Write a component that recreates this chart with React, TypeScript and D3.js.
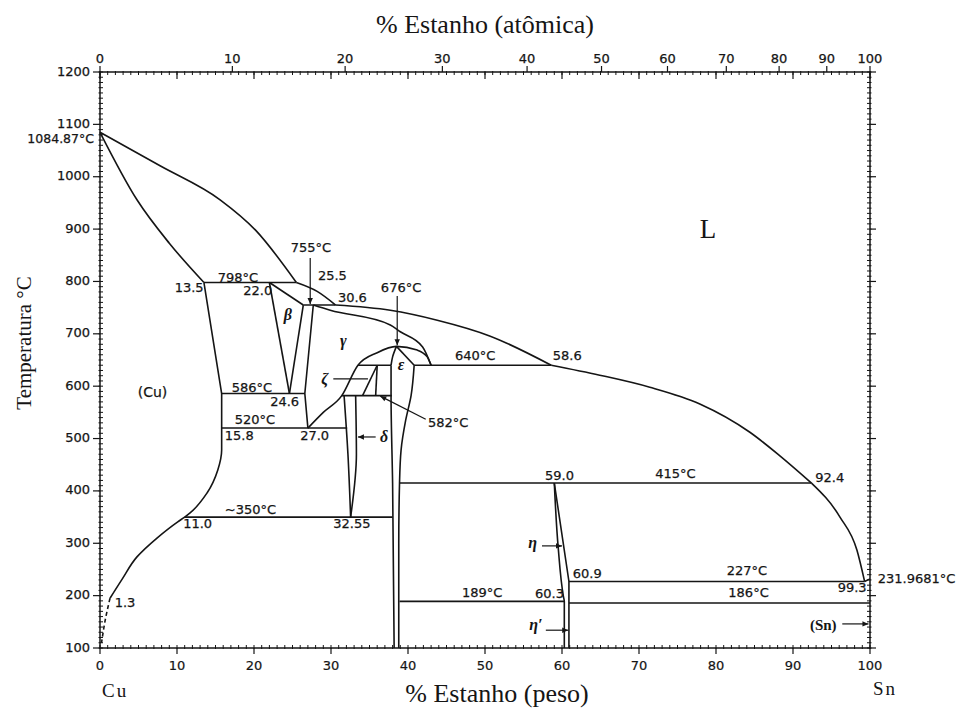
import React from "react";
import * as d3 from "d3";

type P = [number, number]; // [wt% Sn, °C]

// ---- phase boundaries (wt% Sn, temperature °C) ----
const liquidusCu: P[] = [[0, 1084.87], [7.8, 1021], [15.6, 956], [20.2, 898], [25.5, 798]];
const liquidusBeta: P[] = [[25.5, 798], [28.2, 781], [30.6, 755]];
const liquidusGamma: P[] = [[30.6, 755], [37.7, 745], [43.8, 726], [50.6, 696], [58.6, 640]];
const liquidusEps: P[] = [[58.6, 640], [64.9, 621], [71.4, 598], [77.9, 566], [84.4, 512], [88.3, 467], [92.4, 415]];
const liquidusEta: P[] = [[92.4, 415], [96.1, 350], [98.3, 287], [99.3, 227]];
const liquidusSn: P[] = [[99.3, 227], [100, 231.9681]];
const solidusCu: P[] = [[0, 1084.87], [4.8, 956], [9.0, 873], [13.5, 798]];
const solvusCuUpper: P[] = [[13.5, 798], [15.8, 586], [15.8, 520]];
const solvusCuLower: P[] = [[15.8, 520], [15.8, 478], [15.3, 440], [13.9, 396], [11.7, 358], [11.0, 350], [10.1, 341], [7.4, 310], [4.8, 274], [2.9, 232], [1.3, 195]];
const solvusCuDashed: P[] = [[1.3, 195], [0.7, 155], [0.2, 110]];
const betaLeft: P[] = [[22.0, 798], [24.6, 586]];
const betaTop: P[] = [[22.0, 798], [26.4, 755]];
const betaRight: P[] = [[26.4, 755], [24.6, 586]];
const gammaLeft: P[] = [[27.7, 755], [26.6, 586], [27.0, 520]];
const gammaSolidus: P[] = [[27.7, 755], [29.9, 745], [37.7, 717], [39.0, 704], [41.9, 675], [43.0, 640]];
const gammaDome: P[] = [[27.0, 520], [29.0, 550], [31.4, 582], [33.5, 640], [36.0, 664], [38.5, 676], [41.2, 669], [42.5, 656], [43.0, 640]];
const epsLeftTop: P[] = [[38.5, 676], [38.0, 656], [37.8, 640]];
const epsLeftLow: P[] = [[37.8, 640], [37.8, 582], [38.0, 415], [38.2, 100]];
const epsRightTop: P[] = [[38.5, 676], [40.8, 640]];
const epsRightLow: P[] = [[40.8, 640], [40.4, 582], [39.7, 535], [39.1, 478], [38.9, 415], [38.8, 300], [38.8, 100]];
const zetaLeft: P[] = [[36.0, 640], [34.1, 582]];
const zetaRight: P[] = [[36.0, 640], [35.8, 582]];
const deltaLeft: P[] = [[31.7, 582], [32.2, 470], [32.55, 350]];
const deltaRight: P[] = [[33.2, 582], [33.3, 470], [32.55, 350]];
const etaLeft: P[] = [[59.0, 415], [59.5, 293], [60.2, 197], [60.3, 189], [60.3, 100]];
const etaRight: P[] = [[59.0, 415], [60.9, 227], [60.9, 100]];

// invariant isotherms: [°C, from wt%, to wt%]
const isotherms: [number, number, number][] = [
  [798, 13.5, 25.5],
  [755, 26.4, 30.6],
  [586, 15.8, 26.6],
  [520, 15.8, 32.1],
  [350, 11.0, 38.0],
  [640, 33.5, 37.8],
  [640, 40.8, 58.6],
  [582, 31.4, 37.9],
  [415, 38.9, 92.4],
  [227, 60.9, 99.3],
  [189, 38.9, 60.3],
  [186, 60.9, 100],
];

// annotations: [text, wt%, °C] (left/baseline)
const valueLabels: [string, number, number][] = [
  ["25.5", 28.3, 803],
  ["798°C", 15.3, 799],
  ["13.5", 9.7, 780],
  ["22.0", 18.6, 774],
  ["30.6", 30.9, 761],
  ["640°C", 46.1, 650],
  ["58.6", 58.8, 650],
  ["586°C", 17.1, 589],
  ["24.6", 22.1, 562],
  ["520°C", 17.5, 528],
  ["15.8", 16.2, 497],
  ["27.0", 26.0, 497],
  ["582°C", 42.6, 522],
  ["~350°C", 16.2, 356],
  ["11.0", 10.8, 329],
  ["32.55", 30.3, 329],
  ["1.3", 1.9, 178],
  ["59.0", 57.8, 421],
  ["415°C", 72.1, 425],
  ["92.4", 92.9, 417],
  ["60.9", 61.4, 234],
  ["189°C", 47.0, 197],
  ["60.3", 56.5, 195.5],
  ["227°C", 81.4, 239],
  ["186°C", 81.6, 197],
  ["99.3", 95.8, 207],
  ["231.9681°C", 101.0, 224],
];
const centeredLabels: [string, number, number][] = [
  ["755°C", 27.4, 856],
  ["676°C", 39.1, 780],
];
// phase names: [text, wt% (centre), °C (baseline)]
const phaseLabels: [string, number, number][] = [
  ["β", 24.4, 727],
  ["γ", 31.6, 677],
  ["ζ", 29.2, 604],
  ["ε", 39.1, 631],
  ["δ", 36.9, 493],
  ["η", 56.2, 291],
  ["η′", 56.6, 134],
];
// arrows: [wt1, °C1, wt2, °C2] drawn toward the second point
const arrows: [number, number, number, number][] = [
  [27.3, 845, 27.3, 757],
  [38.6, 772, 38.6, 678],
  [42.3, 537, 36.4, 581],
  [35.8, 503, 33.5, 503],
  [57.4, 295, 60.0, 295],
  [57.9, 134, 60.8, 134],
  [96.4, 146, 99.8, 146],
];
const leaders: [number, number, number, number][] = [[30.3, 614, 34.8, 614]];

const tempTicks = d3.range(100, 1201, 100);
const tempMinor = d3.range(100, 1201, 10);
const wtTicks = d3.range(0, 101, 10);
const wtMinor = d3.range(0, 101, 1);
const atTicks = d3.range(0, 101, 10);

const atToWt = (a: number) => (100 * a * 118.71) / (a * 118.71 + (100 - a) * 63.546);

const x = d3.scaleLinear().domain([0, 100]).range([100, 870]);
const y = d3.scaleLinear().domain([100, 1200]).range([648, 72]);

const ink = "#151515";
const sans = "'DejaVu Sans', sans-serif";
const serif = "'Liberation Serif', 'Times New Roman', serif";

export default function App() {
  const straight = d3.line<P>().x((d) => x(d[0])).y((d) => y(d[1]));
  const smoothX = d3.line<P>().x((d) => x(d[0])).y((d) => y(d[1])).curve(d3.curveMonotoneX);
  const smoothY = d3.line<P>().x((d) => x(d[0])).y((d) => y(d[1])).curve(d3.curveMonotoneY);

  const smoothXCurves = [liquidusCu, liquidusBeta, liquidusGamma, liquidusEps, liquidusEta, solidusCu, gammaSolidus, gammaDome];
  const smoothYCurves = [solvusCuLower, epsLeftTop, epsLeftLow, epsRightLow, deltaLeft, deltaRight, etaLeft];
  const straightCurves = [liquidusSn, solvusCuUpper, betaLeft, betaTop, betaRight, gammaLeft, epsRightTop, zetaLeft, zetaRight, etaRight];

  const [x0, x1] = x.range();
  const [yb, yt] = y.range();

  return (
    <svg width={963} height={712} style={{ position: "absolute", left: 0, top: 0, background: "#fff" }}>
      <defs>
        <marker id="head" viewBox="0 0 10 10" refX={10} refY={5} markerWidth={8} markerHeight={6} markerUnits="userSpaceOnUse" orient="auto">
          <path d="M0,0.5 L10,5 L0,9.5 z" fill={ink} />
        </marker>
      </defs>

      {/* frame */}
      <rect x={x0} y={yt} width={x1 - x0} height={yb - yt} fill="none" stroke={ink} strokeWidth={1.5} />

      {/* temperature axes */}
      {tempMinor.map((t) => (
        <g key={"tm" + t} stroke={ink} strokeWidth={1}>
          <line x1={x0 - 1.5} x2={x0 + 3} y1={y(t)} y2={y(t)} />
          <line x1={x1 + 1.5} x2={x1 - 3} y1={y(t)} y2={y(t)} />
        </g>
      ))}
      <g fontFamily={sans} fontSize={13} fill={ink} stroke={ink} strokeWidth={0.25}>
        {tempTicks.map((t) => (
          <g key={"tt" + t}>
            <line x1={x0 - 7} x2={x0} y1={y(t)} y2={y(t)} strokeWidth={1.2} />
            <line x1={x1} x2={x1 + 6} y1={y(t)} y2={y(t)} strokeWidth={1.2} />
            <text x={x0 - 10} y={y(t) + 3.5} textAnchor="end">
              {t}
            </text>
          </g>
        ))}
        <text x={x0 - 6} y={y(1084.87) + 11} textAnchor="end" fontSize={12.5}>
          1084.87°C
        </text>
      </g>

      {/* weight-percent ticks (bottom and top) */}
      {wtMinor.map((w) => (
        <g key={"wm" + w} stroke={ink} strokeWidth={1}>
          <line x1={x(w)} x2={x(w)} y1={yb + 1} y2={yb - 3} />
          <line x1={x(w)} x2={x(w)} y1={yt - 1} y2={yt + 3} />
        </g>
      ))}
      <g fontFamily={sans} fontSize={13} fill={ink}>
        {wtTicks.map((w) => (
          <g key={"wt" + w}>
            <line x1={x(w)} x2={x(w)} y1={yb} y2={yb + 6} stroke={ink} strokeWidth={1.2} />
            <line x1={x(w)} x2={x(w)} y1={yt} y2={yt + 7} stroke={ink} strokeWidth={1.2} />
            <text x={x(w)} y={yb + 22} textAnchor="middle" stroke={ink} strokeWidth={0.2}>
              {w}
            </text>
          </g>
        ))}
        {/* atomic-percent ticks (top) */}
        {atTicks.map((a) => (
          <g key={"at" + a}>
            <line x1={x(atToWt(a))} x2={x(atToWt(a))} y1={yt} y2={yt - 6} stroke={ink} strokeWidth={1.2} />
            <text x={x(atToWt(a))} y={yt - 9} textAnchor="middle" stroke={ink} strokeWidth={0.25}>
              {a}
            </text>
          </g>
        ))}
      </g>

      {/* axis titles */}
      <text x={485} y={33} textAnchor="middle" fontFamily={serif} fontSize={26} fill={ink}>
        % Estanho (atômica)
      </text>
      <text x={497} y={702} textAnchor="middle" fontFamily={serif} fontSize={26} fill={ink}>
        % Estanho (peso)
      </text>
      <text transform="translate(31,343) rotate(-90)" textAnchor="middle" fontFamily={serif} fontSize={21} fill={ink}>
        Temperatura °C
      </text>
      <text x={102} y={697} fontFamily={serif} fontSize={19} letterSpacing={2} fill={ink}>
        Cu
      </text>
      <text x={873} y={695} fontFamily={serif} fontSize={19} letterSpacing={2} fill={ink}>
        Sn
      </text>

      {/* phase boundaries */}
      <g fill="none" stroke={ink} strokeWidth={1.6} strokeLinejoin="round">
        {smoothXCurves.map((c, i) => (
          <path key={"sx" + i} d={smoothX(c) ?? ""} />
        ))}
        {smoothYCurves.map((c, i) => (
          <path key={"sy" + i} d={smoothY(c) ?? ""} />
        ))}
        {straightCurves.map((c, i) => (
          <path key={"st" + i} d={straight(c) ?? ""} />
        ))}
        <path d={smoothY(solvusCuDashed) ?? ""} strokeDasharray="4,3" />
        {isotherms.map(([t, a, b], i) => (
          <line key={"iso" + i} x1={x(a)} x2={x(b)} y1={y(t)} y2={y(t)} />
        ))}
      </g>

      {/* arrows and leaders */}
      <g stroke={ink} strokeWidth={1.2} fill="none">
        {arrows.map(([a, t1, b, t2], i) => (
          <line key={"ar" + i} x1={x(a)} y1={y(t1)} x2={x(b)} y2={y(t2)} markerEnd="url(#head)" />
        ))}
        {leaders.map(([a, t1, b, t2], i) => (
          <line key={"ld" + i} x1={x(a)} y1={y(t1)} x2={x(b)} y2={y(t2)} />
        ))}
      </g>

      {/* value annotations */}
      <g fontFamily={sans} fontSize={13} fill={ink} stroke={ink} strokeWidth={0.25}>
        {valueLabels.map(([s, w, t], i) => (
          <text key={"vl" + i} x={x(w)} y={y(t)}>
            {s}
          </text>
        ))}
        {centeredLabels.map(([s, w, t], i) => (
          <text key={"cl" + i} x={x(w)} y={y(t)} textAnchor="middle">
            {s}
          </text>
        ))}
        <text x={x(4.9)} y={y(579)} fontSize={14}>
          (Cu)
        </text>
      </g>

      {/* phase names */}
      <g fontFamily={serif} fontStyle="italic" fontWeight="bold" fontSize={16} fill={ink}>
        {phaseLabels.map(([s, w, t], i) => (
          <text key={"pl" + i} x={x(w)} y={y(t)} textAnchor="middle">
            {s}
          </text>
        ))}
      </g>
      <text x={x(77.9)} y={y(883)} fontFamily={serif} fontSize={27} fill={ink}>
        L
      </text>
      <text x={x(92.2)} y={y(134)} fontFamily={serif} fontWeight="bold" fontSize={15} fill={ink}>
        (Sn)
      </text>
    </svg>
  );
}
